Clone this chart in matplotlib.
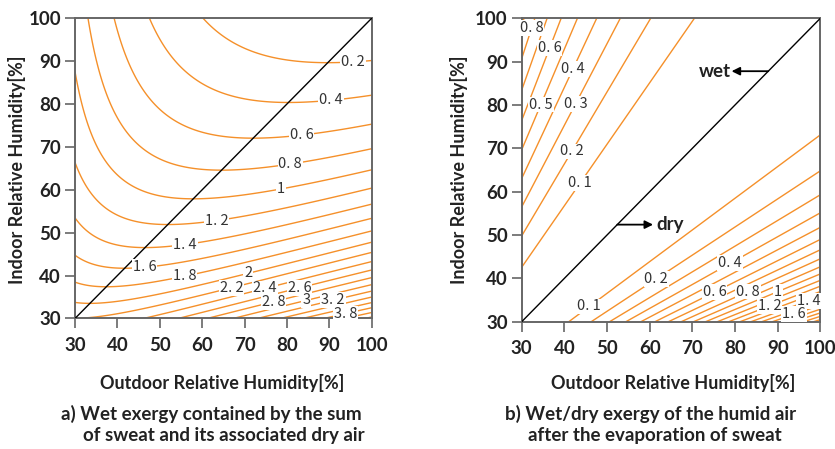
import numpy as np
import matplotlib
matplotlib.use("Agg")
import matplotlib.pyplot as plt

# ------------------------------------------------------------
# Data
# ------------------------------------------------------------
rh_min, rh_max = 30, 100
ticks = [30, 40, 50, 60, 70, 80, 90, 100]

# exergy coefficient (R*T0 per unit vapour)
k_exergy = 1.83

# a) wet exergy of sweat + associated dry air
levels_a = [0.2, 0.4, 0.6, 0.8, 1.0, 1.2, 1.4, 1.6, 1.8, 2.0, 2.2, 2.4,
            2.6, 2.8, 3.0, 3.2, 3.4, 3.6, 3.8, 4.0, 4.2]
label_levels_a = [0.2, 0.4, 0.6, 0.8, 1.0, 1.2, 1.4, 1.6, 1.8, 2.0, 2.2,
                  2.4, 2.6, 2.8, 3.0, 3.2, 3.8]
label_pos_a = [(95.6, 89.9), (90.5, 80.9), (83.5, 72.8), (80.7, 66.2),
               (78.7, 60.1), (63.4, 52.7), (55.9, 47.1), (46.5, 41.7),
               (55.9, 39.7), (70.9, 40.5), (66.9, 37.1), (74.8, 37.1),
               (83.1, 37.1), (76.8, 33.9), (84.6, 34.3), (90.9, 34.3),
               (93.7, 31.5)]

# b) wet/dry exergy of humid air after evaporation
levels_b = [0.1, 0.2, 0.3, 0.4, 0.5, 0.6, 0.7, 0.8, 0.9, 1.0, 1.1, 1.2,
            1.3, 1.4, 1.5, 1.6, 1.7, 1.8, 1.9, 2.0]
label_levels_b = [0.8, 0.6, 0.4, 0.5, 0.3, 0.2, 0.1,
                  0.1, 0.2, 0.4, 0.6, 0.8, 1.0, 1.2, 1.4, 1.6]
label_pos_b = [(32.4, 97.8), (36.6, 93.1), (42.0, 88.3), (34.8, 80.0),
               (43.0, 80.0), (42.0, 69.1), (43.7, 62.0),
               (46.0, 33.4), (61.6, 39.8), (78.8, 43.6), (75.1, 36.9),
               (82.9, 37.1), (89.9, 37.3), (88.0, 33.8), (97.0, 35.4),
               (93.8, 31.9)]

# ------------------------------------------------------------
# Fields
# ------------------------------------------------------------
outdoor = np.linspace(rh_min, rh_max, 500)
indoor = np.linspace(rh_min, rh_max, 500)
X, Y = np.meshgrid(outdoor, indoor)
wet_sum = k_exergy * (np.log(100.0 / X) + X / Y - 1.0)
humid_air = k_exergy * (np.log(Y / X) - 1.0 + X / Y)

LINE = "#f5902a"
SPINE = "#666666"
TXT = "#222222"
LBL_FONT = ["Noto Sans CJK JP", "DejaVu Sans"]
AX_FONT = "Lato"


def fmt(v):
    return f"{v:g}".replace(".", ". ")


def style_axes(ax):
    ax.set_xlim(rh_min, rh_max)
    ax.set_ylim(rh_min, rh_max)
    ax.set_xticks(ticks)
    ax.set_yticks(ticks)
    for s in ax.spines.values():
        s.set_color(SPINE)
        s.set_linewidth(1.4)
    ax.tick_params(direction="out", length=7, width=1.2, color=SPINE,
                   labelsize=13.5, labelcolor=TXT)
    ax.tick_params(axis="x", pad=6)
    ax.tick_params(axis="y", pad=3)
    for lab in ax.get_xticklabels() + ax.get_yticklabels():
        lab.set_fontfamily(AX_FONT)
        lab.set_fontweight("bold")
    ax.plot([rh_min, rh_max], [rh_min, rh_max], color="black", lw=1.0, zorder=3)


def add_labels(ax, cs, levels, lvls, pos):
    # put each label on the nearest point of its own contour line
    for lv, (px, py) in zip(lvls, pos):
        segs = cs.allsegs[levels.index(lv)]
        pts = np.vstack(segs)
        d = (pts[:, 0] - px) ** 2 + (pts[:, 1] - py) ** 2
        x0, y0 = pts[np.argmin(d)]
        ax.text(x0, y0, fmt(lv), ha="center", va="center", fontsize=10.5,
                color="#333333", family=LBL_FONT, zorder=6,
                bbox=dict(facecolor="white", edgecolor="none", pad=0.6))


fig = plt.figure(figsize=(8.35, 4.49), dpi=100)
ax1 = fig.add_axes([0.0898, 0.2907, 0.3553, 0.6686])
ax2 = fig.add_axes([0.6248, 0.2835, 0.3576, 0.6757])

cs1 = ax1.contour(X, Y, wet_sum, levels=levels_a, colors=LINE, linewidths=1.0)
style_axes(ax1)
add_labels(ax1, cs1, levels_a, label_levels_a, label_pos_a)

cs2 = ax2.contour(X, Y, humid_air, levels=levels_b, colors=LINE, linewidths=1.0)
style_axes(ax2)
add_labels(ax2, cs2, levels_b, label_levels_b, label_pos_b)

arrow = dict(arrowstyle="-|>", color="black", lw=1.3, mutation_scale=12,
             shrinkA=0, shrinkB=0)
ax2.annotate("", xy=(79.2, 87.8), xytext=(87.8, 87.8), arrowprops=arrow)
ax2.text(79.0, 87.8, "wet", ha="right", va="center", fontsize=13.5,
         fontweight="bold", family=AX_FONT, color=TXT)
ax2.annotate("", xy=(60.8, 52.4), xytext=(52.4, 52.4), arrowprops=arrow)
ax2.text(61.6, 52.4, "dry", ha="left", va="center", fontsize=13.5,
         fontweight="bold", family=AX_FONT, color=TXT)


# axis labels and captions
def ftext(px, py, s, size=13, **kw):
    fig.text(px / 835, 1 - py / 449, s, ha="center", va="center",
             fontsize=size, fontweight="bold", family=AX_FONT, color=TXT, **kw)


ftext(222, 383, "Outdoor Relative Humidity[%]")
ftext(673, 383, "Outdoor Relative Humidity[%]")
ftext(17, 170, "Indoor Relative Humidity[%]", rotation=90)
ftext(459, 170, "Indoor Relative Humidity[%]", rotation=90)
ftext(211, 414, "a) Wet exergy contained by the sum", size=13.5)
ftext(224, 436, "of sweat and its associated dry air", size=13.5)
ftext(651, 414, "b) Wet/dry exergy of the humid air", size=13.5)
ftext(655, 436, "after the evaporation of sweat", size=13.5)

fig.savefig("out.png", dpi=100)
